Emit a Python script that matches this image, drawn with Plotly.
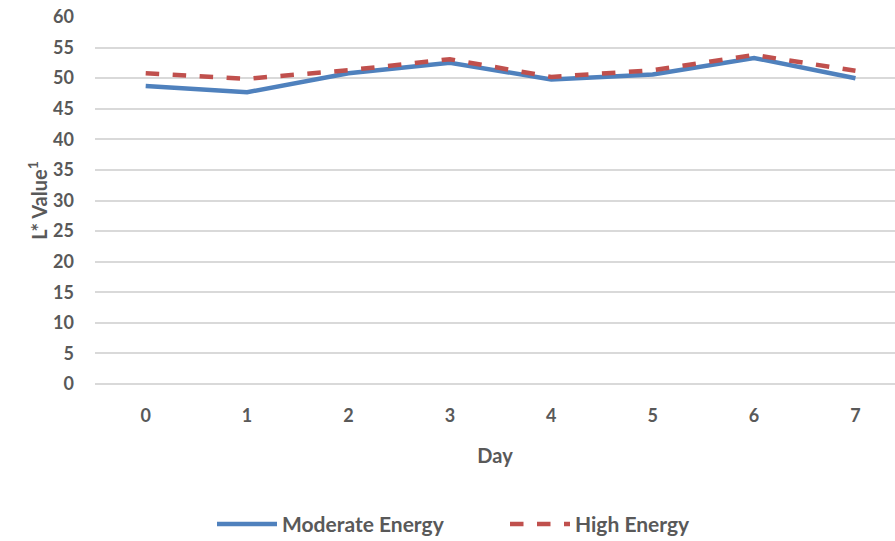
import plotly.graph_objects as go

days = [0, 1, 2, 3, 4, 5, 6, 7]
moderate = [48.7, 47.7, 50.8, 52.5, 49.8, 50.6, 53.3, 50.0]
high = [50.8, 49.9, 51.3, 53.1, 50.2, 51.3, 53.8, 51.2]

font_family = "Lato, 'Open Sans', sans-serif"
grey = "#595959"

fig = go.Figure()
fig.add_trace(go.Scatter(x=days, y=moderate, mode="lines", name="Moderate Energy",
                         line=dict(color="#4F81BD", width=4.5)))
fig.add_trace(go.Scatter(x=days, y=high, mode="lines", name="High Energy",
                         line=dict(color="#C0504D", width=4.5, dash="dash")))

fig.update_layout(
    width=895, height=541,
    margin=dict(l=95, r=0, t=17, b=157),
    paper_bgcolor="white", plot_bgcolor="white",
    font=dict(family=font_family, color=grey, size=18),
    showlegend=True,
    legend=dict(orientation="h", xref="container", yref="container",
                x=212 / 895, y=0.031, xanchor="left", yanchor="middle",
                font=dict(size=21, color=grey, family=font_family, weight="bold"),
                itemwidth=60, entrywidth=218),
    xaxis=dict(type="linear", range=[-0.5, 7.39], tickmode="array", tickvals=days,
               ticktext=[str(d) for d in days], showgrid=False, zeroline=False,
               showline=False, ticks="", ticklabelstandoff=19,
               tickfont=dict(size=18, family=font_family, color=grey, weight="bold"),
               title=dict(text="Day", standoff=23,
                          font=dict(size=20, family=font_family, color=grey, weight="bold"))),
    yaxis=dict(range=[0, 60], dtick=5, showgrid=True, gridcolor="#D9D9D9", gridwidth=1.5,
               zeroline=True, zerolinecolor="#D9D9D9", zerolinewidth=1.5,
               showline=False, ticks="", ticklabelstandoff=20,
               tickfont=dict(size=18, family=font_family, color=grey, weight="bold"),
               title=dict(text="L* Value<sup>1</sup>", standoff=0,
                          font=dict(size=20, family=font_family, color=grey, weight="bold"))),
)

fig.write_html("out.html")
